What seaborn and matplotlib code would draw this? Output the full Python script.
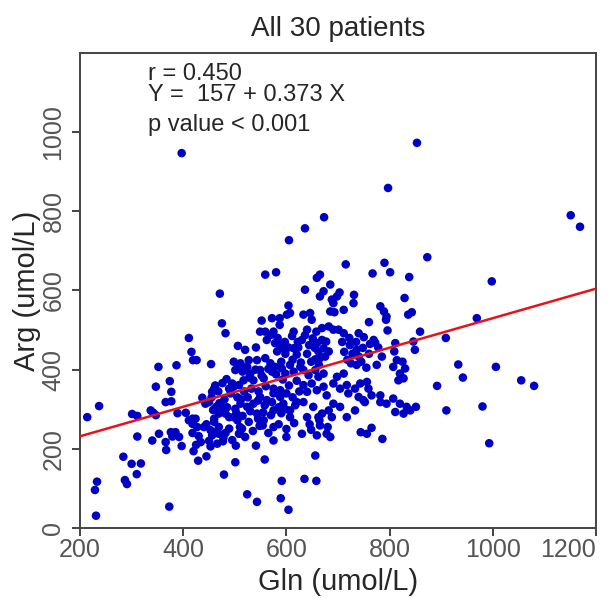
import numpy as np
import pandas as pd
import matplotlib
matplotlib.use('Agg')
import matplotlib.pyplot as plt
import seaborn as sns

# Valores (Gln, Arg en umol/L)
gln = [397, 853, 797, 673, 636, 605, 715, 790, 1151, 1169, 873,
       998, 969, 859, 909, 933, 1006, 942, 1055, 1080, 892, 980, 910, 993,
       471, 475, 482, 411, 416, 419, 426, 506, 454, 352, 387, 498, 501, 508,
       374, 347, 377, 366, 377, 460, 456, 484, 489, 498, 508, 437, 443, 450,
       237, 214, 301, 311, 337, 342, 347, 389, 405, 418, 424,
       464, 476, 482, 469, 460, 489, 501, 511, 498,
       559, 580, 665, 659, 767, 801, 838, 685, 636, 672, 665, 703, 698, 731, 730,
       688, 691, 685, 693, 604, 607, 601, 711, 633, 646, 649, 782, 789, 794, 793,
       829, 843, 836, 760, 552, 549, 559, 572, 587, 587, 575, 570, 562, 614,
       640, 658, 669, 682, 691, 701, 711, 740, 796, 769, 772, 811,
       520, 541, 527, 578, 588, 582, 594, 604, 614, 623,
       630, 651, 659, 669, 677, 672, 662, 682, 665, 656, 675,
       723, 736, 730, 740, 725, 736, 778, 785, 775,
       809, 814, 807, 825, 830, 820, 827, 817, 846, 849,
       511, 524, 543, 559, 569, 549, 530, 517, 536, 556, 572, 578, 591, 607, 598,
       614, 627, 633, 643, 656, 662, 672, 649, 633, 640, 659, 672, 678, 691, 698,
       711, 704, 717, 720, 733, 743, 756, 759, 740, 749, 765, 782, 794, 782, 733,
       704, 691, 682, 669, 652, 633, 617, 607, 594, 588, 575, 562, 549, 536, 524,
       543, 575, 607, 640, 662, 688, 717, 752, 807, 820, 833, 851, 811, 827, 840,
       527, 514, 510, 541, 558, 554, 556, 575, 575, 648, 659, 665, 664, 678, 685,
       656, 635, 658, 591, 524, 543, 589, 604, 744, 756, 765, 786,
       311, 340, 353, 366, 367, 376, 385, 392, 379, 397, 284, 300, 318, 310, 287,
       291, 233, 229, 231, 373, 420, 429, 445, 479, 501, 502, 434, 453,
       466, 477, 456, 463, 469, 482, 489, 453, 440, 418, 411, 427, 469, 460, 505, 508,
       # nube densa central
       583, 597, 611, 622, 636, 644, 598, 620, 640, 655, 590, 612, 628, 648, 663,
       515, 528, 540, 552, 565, 580, 593, 605, 620, 518, 532, 546, 560, 575, 588,
       600, 612, 625, 512, 525, 545, 558, 572, 585, 598, 620, 530, 555, 570, 590,
       515, 545,
       708, 722, 735, 750, 762, 712, 728, 748, 760, 718, 745, 755,
       455, 468, 480, 492, 505, 462, 476, 495, 470, 485, 458, 503,
       418, 430, 445, 478, 495, 510, 425, 450,
       520, 535, 548, 565, 585, 600, 615, 630, 645, 680, 600]
arg = [947, 973, 859, 785, 757, 727, 666, 670, 790, 761, 684,
       623, 530, 496, 480, 413, 407, 380, 373, 359, 359, 307, 297, 214,
       592, 517, 492, 480, 445, 424, 424, 460, 414, 407, 411, 420, 399, 407,
       371, 357, 344, 318, 320, 352, 344, 376, 352, 357, 361, 329, 314, 318,
       308, 280, 288, 283, 297, 291, 285, 290, 291, 276, 276,
       306, 306, 289, 289, 276, 280, 301, 314, 280,
       640, 646, 640, 632, 643, 646, 634, 615, 602, 598, 585, 595, 585, 589, 568,
       577, 568, 547, 545, 562, 543, 539, 551, 539, 543, 526, 560, 547, 534, 526,
       581, 545, 539, 520, 524, 496, 496, 530, 530, 513, 496, 488, 475, 496,
       501, 496, 505, 509, 501, 501, 492, 492, 499, 475, 468, 467,
       450, 456, 424, 467, 462, 446, 454, 456, 454, 456,
       475, 479, 467, 475, 471, 454, 446, 446, 429, 426, 433,
       462, 450, 437, 433, 416, 412, 456, 433, 412,
       446, 424, 407, 420, 403, 390, 378, 373, 471, 450,
       416, 407, 424, 429, 416, 399, 390, 373, 373, 378, 395, 407, 403, 412, 390,
       395, 407, 399, 386, 399, 382, 390, 365, 361, 344, 348, 357, 335, 365, 382,
       390, 352, 361, 340, 352, 365, 369, 352, 331, 323, 335, 335, 314, 318, 297,
       306, 314, 297, 289, 306, 318, 310, 297, 314, 331, 340, 323, 331, 314, 306,
       289, 297, 280, 280, 280, 280, 280, 318, 327, 314, 306, 306, 293, 289, 297,
       268, 251, 238, 208, 173, 259, 272, 255, 221, 248, 234, 259, 272, 238, 230,
       183, 124, 119, 119, 85, 66, 75, 46, 242, 238, 253, 225,
       231, 221, 238, 217, 197, 242, 242, 230, 231, 207, 180, 162, 163, 136, 121,
       111, 117, 96, 31, 54, 194, 170, 181, 135, 166, 208, 217, 206,
       213, 219, 234, 242, 238, 240, 251, 247, 255, 263, 272, 255, 255, 268, 272, 238,
       # nube densa central
       480, 470, 485, 470, 487, 462, 440, 438, 440, 455, 420, 425, 418, 420, 412,
       395, 380, 400, 385, 402, 388, 375, 360, 372, 345, 352, 345, 358, 352, 348,
       340, 330, 345, 325, 330, 322, 310, 318, 305, 300, 318, 295, 292, 285, 290,
       283, 276,
       470, 480, 470, 482, 465, 445, 440, 455, 440, 425, 420, 405,
       330, 345, 325, 340, 330, 360, 366, 365, 315, 305, 298, 290,
       240, 232, 262, 228, 222, 255, 210, 220,
       230, 245, 258, 240, 262, 250, 265, 238, 262, 255, 230]

# Recta de regresion indicada en el grafico
intercepto = 157
pendiente = 0.373
linea_x = [200, 1200]

xticks = [200, 400, 600, 800, 1000, 1200]
yticks = [0, 200, 400, 600, 800, 1000]

df = pd.DataFrame({'Gln': gln, 'Arg': arg})
df_linea = pd.DataFrame({'Gln': linea_x,
                         'Arg': [intercepto + pendiente * v for v in linea_x]})

sns.set_style('white')
plt.rcParams['font.family'] = ['Liberation Sans', 'DejaVu Sans']

fig = plt.figure(figsize=(6.14, 5.98), dpi=100)
ax = fig.add_axes([0.1303, 0.1171, 0.8404, 0.7943])

sns.scatterplot(data=df, x='Gln', y='Arg', color='#0000c4', s=38,
                edgecolor='none', ax=ax, zorder=2)
sns.lineplot(data=df_linea, x='Gln', y='Arg', color='#e8131a', linewidth=1.8,
             ax=ax, zorder=3)

ax.set_xlim(200, 1200)
ax.set_ylim(0, 1200)
ax.set_xticks(xticks)
ax.set_xticklabels([str(v) for v in xticks])
ax.set_yticks(yticks)
ax.set_yticklabels([str(v) for v in yticks], rotation=90, va='center')
ax.tick_params(axis='both', direction='out', length=5.5, width=1.4,
               color='#444444', labelsize=18, labelcolor='#555555', bottom=True, left=True)
ax.tick_params(axis='x', pad=2)
ax.tick_params(axis='y', pad=5)
# la ultima etiqueta del eje x queda alineada a la derecha para que no se corte
ax.get_xticklabels()[-1].set_ha('right')
for sp in ax.spines.values():
    sp.set_color('#444444')
    sp.set_linewidth(1.4)

ax.set_xlabel('Gln (umol/L)', fontsize=21, labelpad=4)
ax.set_ylabel('Arg (umol/L)', fontsize=21, labelpad=0)
ax.set_title('All 30 patients', fontsize=20, pad=12)

# Texto con estadisticos
ax.text(0.132, 0.956, 'r = 0.450', transform=ax.transAxes, fontsize=17, va='center')
ax.text(0.132, 0.912, 'Y =  157 + 0.373 X', transform=ax.transAxes, fontsize=17, va='center')
ax.text(0.132, 0.848, 'p value < 0.001', transform=ax.transAxes, fontsize=17, va='center')

fig.savefig('out.png', dpi=100)
